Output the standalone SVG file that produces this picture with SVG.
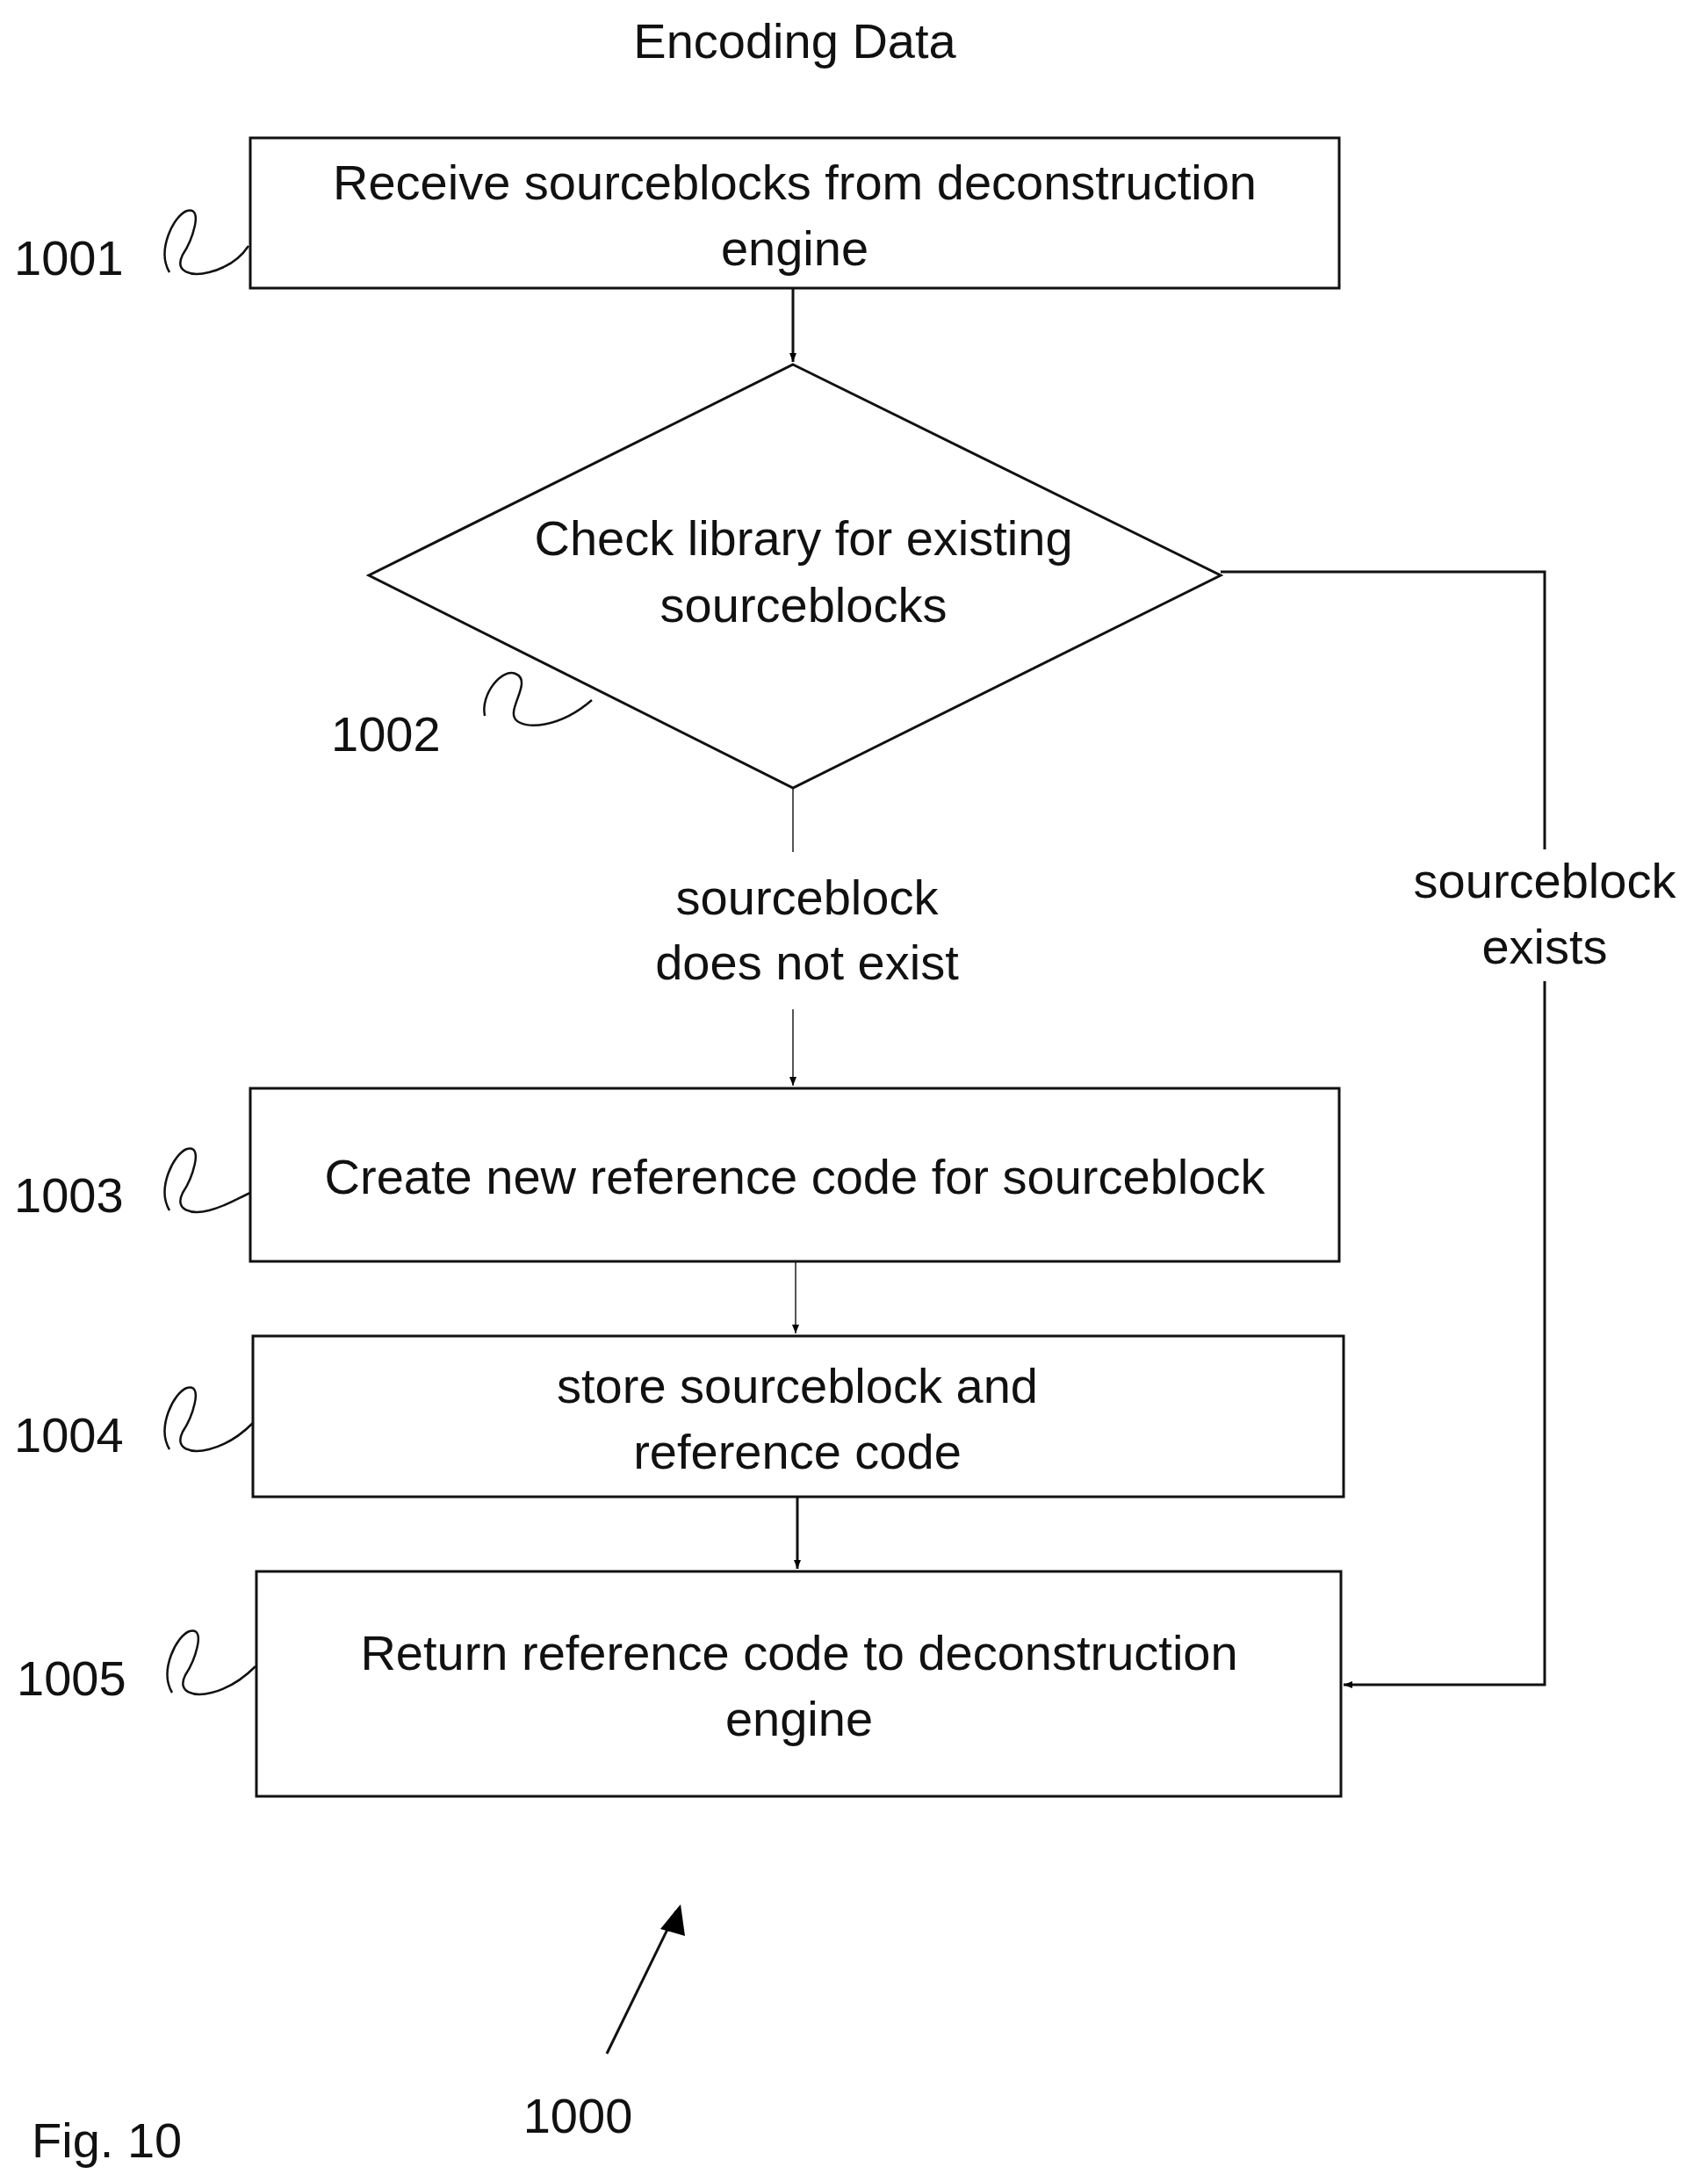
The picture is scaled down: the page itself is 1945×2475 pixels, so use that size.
<svg xmlns="http://www.w3.org/2000/svg" width="1945" height="2475" viewBox="0 0 1945 2475">
<defs>
<marker id="ah" viewBox="0 0 10 10" refX="10" refY="5" markerWidth="10" markerHeight="10" markerUnits="userSpaceOnUse" orient="auto"><path d="M0,1 L10,5 L0,9 z" fill="#000"/></marker>
<style>
text{font-family:"Liberation Sans",Arial,sans-serif;fill:#111;font-size:56px;text-anchor:middle}
.n{fill:#fff;stroke:#111;stroke-width:3}
.c{fill:none;stroke:#111;stroke-width:3}
.t{fill:none;stroke:#555;stroke-width:2}
.s{fill:none;stroke:#111;stroke-width:2.5}
.l{text-anchor:start}
</style>
</defs>
<rect width="1945" height="2475" fill="#fff"/>
<text x="905" y="66" font-size="54">Encoding Data</text>
<g id="connectors">
<line class="c" x1="903" y1="328" x2="903" y2="412" marker-end="url(#ah)"/>
<polyline class="c" points="1390,651 1759,651 1759,967"/>
<polyline class="c" points="1759,1117 1759,1918 1530,1918" marker-end="url(#ah)"/>
<line class="t" x1="903" y1="897" x2="903" y2="970"/>
<line class="t" x1="903" y1="1149" x2="903" y2="1236" marker-end="url(#ah)"/>
<line class="t" x1="906" y1="1436" x2="906" y2="1518" marker-end="url(#ah)"/>
<line class="c" x1="908" y1="1704" x2="908" y2="1786" marker-end="url(#ah)"/>
<line class="c" x1="691" y1="2338" x2="770" y2="2176" stroke-width="2.5"/>
<path d="M775,2168 L752,2196 L780,2204 z" fill="#000"/>
<text x="1759" y="1022">sourceblock</text>
<text x="1759" y="1097">exists</text>
<text x="919" y="1041">sourceblock</text>
<text x="919" y="1115">does not exist</text>
</g>
<g id="n1001">
<rect class="n" x="285" y="157" width="1240" height="171"/>
<text x="905" y="227">Receive sourceblocks from deconstruction</text>
<text x="905" y="302">engine</text>
<text class="l" x="16" y="313">1001</text>
<path class="s" d="M193,310 c-15,-25 5,-65 20,-70 c20,-5 5,35 -5,50 c-10,20 10,25 30,20 c20,-5 35,-15 45,-30"/>
</g>
<g id="n1002">
<polygon class="n" points="903,415 1390,655 903,897 420,655"/>
<text x="915" y="632">Check library for existing</text>
<text x="915" y="708">sourceblocks</text>
<text class="l" x="377" y="855">1002</text>
<path class="s" d="M552,815 c-5,-25 20,-55 35,-48 c20,8 -10,40 0,52 c10,12 50,10 87,-22"/>
</g>
<g id="n1003">
<rect class="n" x="285" y="1239" width="1240" height="197"/>
<text x="905" y="1359">Create new reference code for sourceblock</text>
<text class="l" x="16" y="1380">1003</text>
<path class="s" d="M193,1378 c-15,-25 5,-65 20,-70 c20,-5 5,35 -5,50 c-10,20 10,25 30,20 c20,-5 35,-15 47,-20"/>
</g>
<g id="n1004">
<rect class="n" x="288" y="1521" width="1242" height="183"/>
<text x="908" y="1597">store sourceblock and</text>
<text x="908" y="1672">reference code</text>
<text class="l" x="16" y="1653">1004</text>
<path class="s" d="M193,1650 c-15,-25 5,-65 20,-70 c20,-5 5,35 -5,50 c-10,20 10,25 30,20 c20,-5 35,-15 50,-30"/>
</g>
<g id="n1005">
<rect class="n" x="292" y="1789" width="1235" height="256"/>
<text x="910" y="1901">Return reference code to deconstruction</text>
<text x="910" y="1976">engine</text>
<text class="l" x="19" y="1930">1005</text>
<path class="s" d="M196,1927 c-15,-25 5,-65 20,-70 c20,-5 5,35 -5,50 c-10,20 10,25 30,20 c20,-5 35,-15 50,-30"/>
</g>
<text x="658" y="2428">1000</text>
<text class="l" x="36" y="2456" font-size="74">Fig. 10</text>
</svg>
